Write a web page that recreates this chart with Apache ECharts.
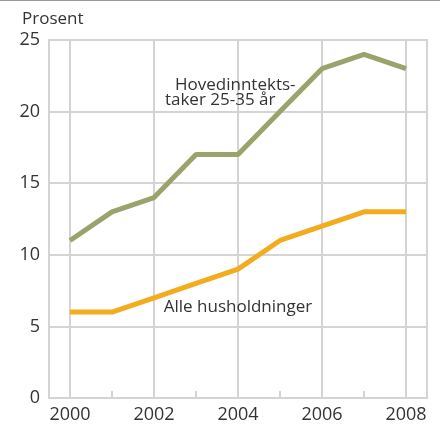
<!DOCTYPE html>
<html><head><meta charset="utf-8">
<script src="https://cdn.jsdelivr.net/npm/echarts@6/dist/echarts.min.js"></script>
<style>html,body{margin:0;padding:0;background:#fff}#c{width:440px;height:425px}</style>
</head><body><div id="c"></div>
<script>
const years = [2000, 2001, 2002, 2003, 2004, 2005, 2006, 2007, 2008];
const young = [11, 13, 14, 17, 17, 20, 23, 24, 23];
const all = [6, 6, 7, 8, 9, 11, 12, 13, 13];
const yTicks = [0, 5, 10, 15, 20, 25];
const youngLabel = ['Hovedinntekts-', 'taker 25-35 år'];
const allLabel = 'Alle husholdninger';

const font = '"Open Sans", sans-serif';
const gridCol = '#d4d4d4';
const txt = '#333';

const chart = echarts.init(document.getElementById('c'), null, {renderer: 'canvas'});
chart.setOption({
  animation: false,
  title: {text: 'Prosent', left: 17, top: 6, textStyle: {fontFamily: font, fontSize: 17, fontWeight: 'normal', color: txt}},
  graphic: [{type: 'line', shape: {x1: 0, y1: 0.5, x2: 440, y2: 0.5}, style: {stroke: '#999', lineWidth: 1}}],
  grid: [
    {left: 49, right: 13, top: 40, bottom: 27, show: true, borderColor: gridCol, borderWidth: 2},
    {left: 70, right: 34, top: 40, bottom: 27}
  ],
  xAxis: [
    {gridIndex: 0, type: 'value', min: 0, max: 1, show: false},
    {gridIndex: 1, type: 'value', min: 2000, max: 2008, interval: 2,
      axisLine: {show: false},
      axisTick: {show: false, inside: true, length: 7},
      minorTick: {show: true, splitNumber: 2, length: 7, lineStyle: {color: gridCol, width: 2}},
      splitLine: {show: true, lineStyle: {color: gridCol, width: 2}},
      axisLabel: {margin: 8, fontFamily: font, fontSize: 18, color: txt, formatter: v => String(v)}}
  ],
  yAxis: [
    {gridIndex: 0, type: 'value', min: yTicks[0], max: yTicks[yTicks.length - 1], interval: 5,
      axisLine: {show: false}, axisTick: {show: false},
      splitLine: {show: true, lineStyle: {color: gridCol, width: 2}},
      axisLabel: {margin: 9, fontFamily: font, fontSize: 18, color: txt}},
    {gridIndex: 1, type: 'value', min: 0, max: 25, show: false}
  ],
  series: [
    {type: 'line', xAxisIndex: 1, yAxisIndex: 1, data: years.map((y, i) => [y, young[i]]),
      symbol: 'none', lineStyle: {color: '#9ca26c', width: 5}, itemStyle: {color: '#9ca26c'},
      markPoint: {symbol: 'circle', symbolSize: 0, silent: true,
        label: {show: true, position: 'right', distance: 0, fontFamily: font, fontSize: 17, color: txt},
        data: [
          {coord: [2002.5, 21.85], label: {formatter: youngLabel[0]}},
          {coord: [2002.26, 20.8], label: {formatter: youngLabel[1]}}
        ]}},
    {type: 'line', xAxisIndex: 1, yAxisIndex: 1, data: years.map((y, i) => [y, all[i]]),
      symbol: 'none', lineStyle: {color: '#f2ac1e', width: 5}, itemStyle: {color: '#f2ac1e'},
      markPoint: {symbol: 'circle', symbolSize: 0, silent: true,
        label: {show: true, position: 'inside', fontFamily: font, fontSize: 17, color: txt},
        data: [{coord: [2004.0, 6.35], label: {formatter: allLabel}}]}}
  ]
});
</script></body></html>
